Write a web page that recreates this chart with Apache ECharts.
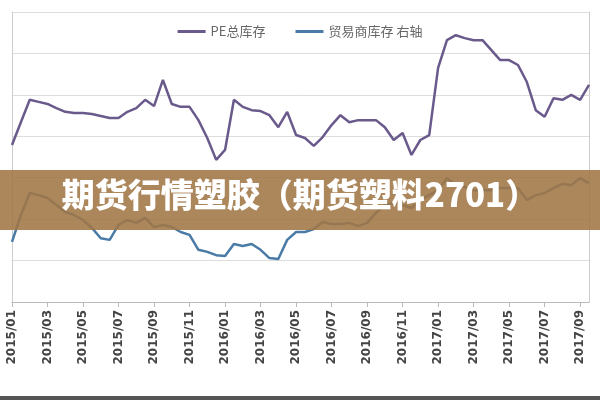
<!DOCTYPE html>
<html><head><meta charset="utf-8">
<script src="https://cdn.jsdelivr.net/npm/echarts@6/dist/echarts.min.js"></script>
<style>html,body{margin:0;padding:0;background:#fff}#c{width:600px;height:400px}</style>
</head><body><div id="c"></div>
<script>
const months=[];
for(let y=2015;y<=2017;y++){for(let m=1;m<=12;m++){if(y===2017&&m>9)break;const mm=(m<10?'0':'')+m;months.push(y+'/'+mm+'/01');months.push(y+'/'+mm+'/16');}}
const categories=months;
const peTotal=[37.9,43.4,48.8,48.3,47.8,46.8,45.9,45.6,45.6,45.4,44.9,44.4,44.4,45.9,46.8,48.8,47.3,53.6,47.8,47.1,47.1,43.9,39.6,34.3,36.7,48.8,47.1,46.3,46.1,45.1,42.2,45.9,40.3,39.6,37.7,39.8,42.7,45.1,43.4,43.9,43.9,43.9,42.2,39.1,40.8,35.5,39.1,40.3,56.5,63.2,64.4,63.7,63.2,63.2,60.8,58.4,58.4,57.2,53.1,46.3,44.7,49.2,48.8,50.0,48.8,52.4];
const traderStock=[14.5,21.0,26.3,25.8,25.1,23.4,21.7,21.0,19.8,17.9,15.4,15.0,18.6,19.8,19.1,20.3,18.1,18.6,18.1,16.9,16.2,12.6,12.1,11.3,11.1,14.0,13.5,14.0,12.6,10.6,10.4,15.0,16.9,16.9,17.6,19.3,18.8,18.8,19.1,18.3,19.1,21.5,23.4,23.9,23.4,22.7,24.6,25.8,27.0,29.9,28.2,27.8,27.0,27.0,27.0,27.5,27.5,27.5,24.6,25.8,26.3,27.5,28.5,28.2,29.9,28.7];
const seriesNames=['PE总库存','贸易商库存 右轴'];
const bannerText='期货行情塑胶（期货塑料2701）';
const chart=echarts.init(document.getElementById('c'));
chart.setOption({
  animation:false,
  legend:{top:20,left:'center',itemWidth:28,itemHeight:3,icon:'rect',itemGap:30,
    textStyle:{color:'#666',fontSize:13,fontFamily:'Noto Sans CJK SC'},data:seriesNames},
  grid:{left:12,right:11,top:12,bottom:98},
  xAxis:{type:'category',data:categories,boundaryGap:false,
    axisLine:{lineStyle:{color:'#bbb'}},
    axisTick:{interval:3,lineStyle:{color:'#bbb'}},
    axisLabel:{interval:3,rotate:90,color:'#444',fontSize:12,fontWeight:'bold',fontFamily:'DejaVu Sans',formatter:v=>v.slice(0,7)}},
  yAxis:[
    {type:'value',min:0,max:70,interval:10,axisLabel:{show:false},axisLine:{show:true,lineStyle:{color:'#ccc'}},splitLine:{lineStyle:{color:'#ddd'}}},
    {type:'value',min:0,max:70,interval:10,axisLabel:{show:false},axisLine:{show:true,lineStyle:{color:'#ccc'}},splitLine:{show:false}}
  ],
  series:[
    {name:seriesNames[0],type:'line',data:peTotal,symbol:'none',lineStyle:{color:'#6a5a8c',width:2.5},itemStyle:{color:'#6a5a8c'}},
    {name:seriesNames[1],type:'line',yAxisIndex:1,data:traderStock,symbol:'none',lineStyle:{color:'#4a7aa6',width:2.5},itemStyle:{color:'#4a7aa6'}}
  ],
  graphic:[
    {type:'rect',shape:{x:0,y:170,width:600,height:60},style:{fill:'rgba(160,118,70,0.88)'},z:100},
    {type:'text',left:'center',top:178,style:{text:bannerText,fill:'#fff',fontSize:33,fontWeight:900,fontFamily:'Noto Sans CJK SC'},z:101},
    {type:'rect',shape:{x:0,y:396,width:600,height:4},style:{fill:'#555'},z:100}
  ]
});
</script></body></html>
